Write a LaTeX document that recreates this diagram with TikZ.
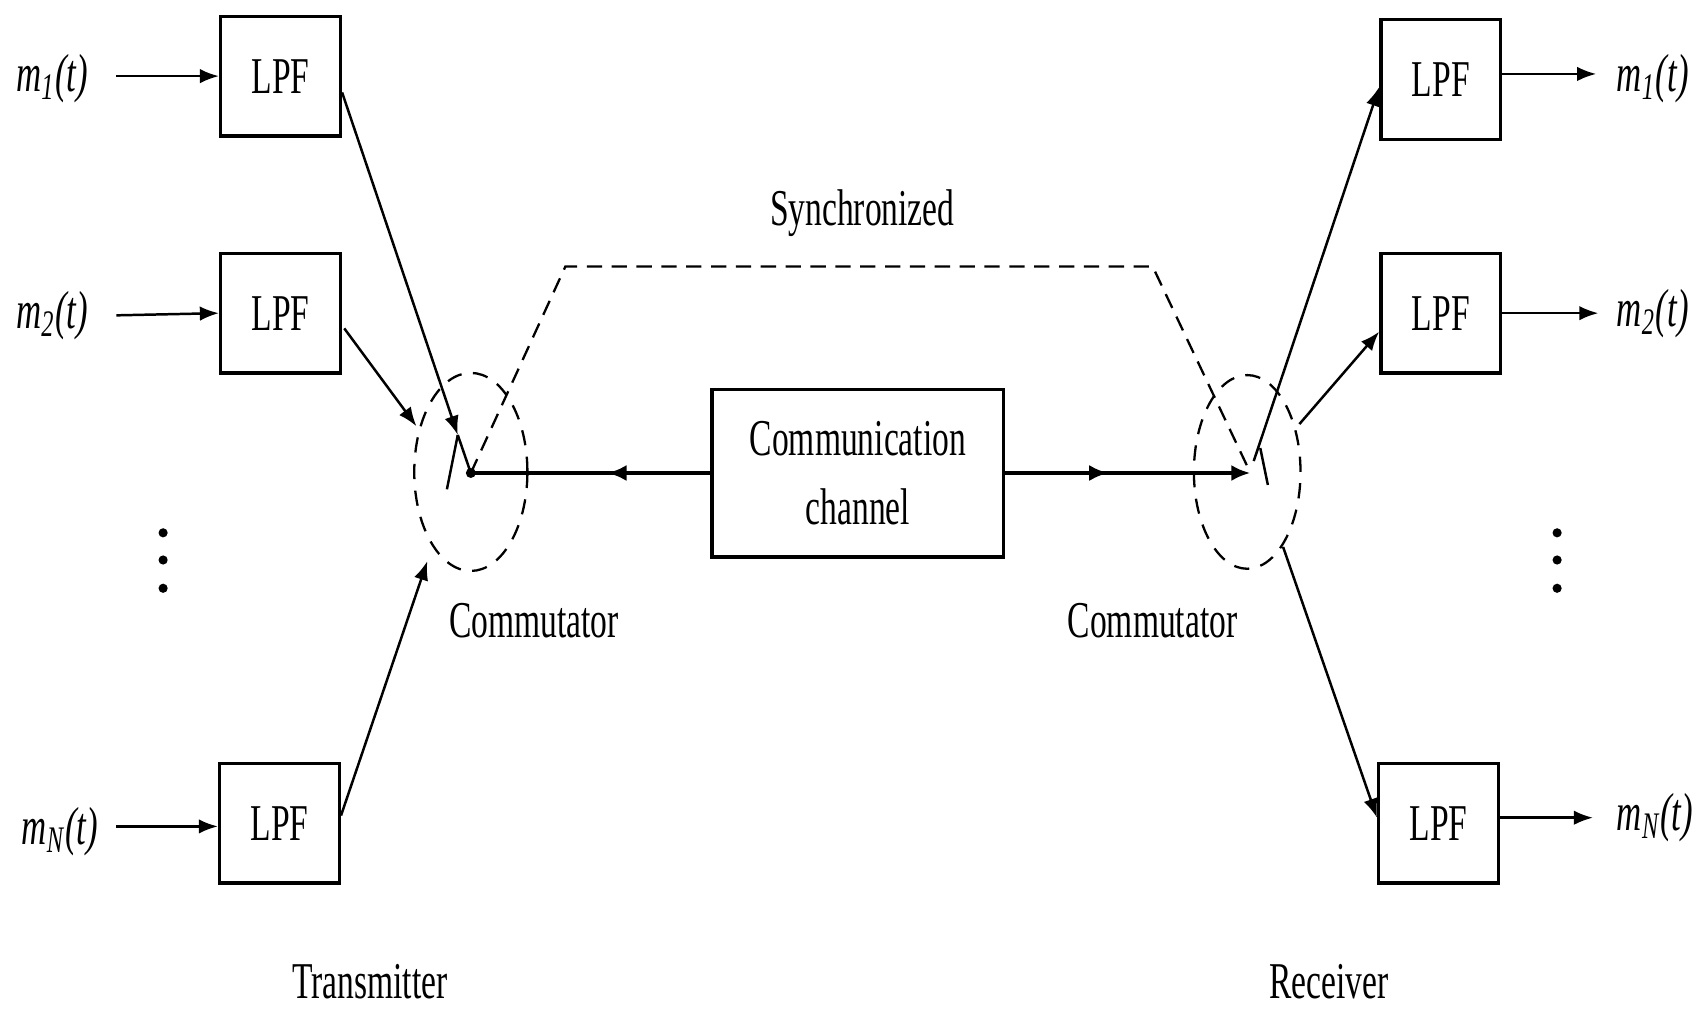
\documentclass[tikz,border=0pt]{standalone}
\usepackage{fontspec}
\newfontfamily\cf[FakeStretch=0.65]{Liberation Serif}
\usetikzlibrary{arrows.meta,shapes.geometric,decorations.markings,calc}
\begin{document}
\begin{tikzpicture}[x=0.01cm,y=-0.01cm,
  lbl/.style={font=\cf\fontsize{13.5}{18}\selectfont,inner sep=0pt},
  sig/.style={font=\cf\itshape\fontsize{14}{16}\selectfont,inner sep=0pt},
  lpf/.style={draw,line width=0.9pt,minimum width=1.1cm,minimum height=1.1cm,inner sep=0pt,font=\cf\fontsize{13.5}{16}\selectfont},
  arr/.style={line width=0.65pt,-{Latex[length=5pt,width=3.8pt]}},
  wire/.style={line width=0.65pt},
  comm/.style={draw,ellipse,line width=0.6pt,dash pattern=on 4pt off 3pt,inner sep=0pt},
  sync/.style={line width=0.6pt,dash pattern=on 4pt off 2.5pt},
  chan/.style={line width=1.1pt,postaction={decorate},
    decoration={markings,mark=at position #1 with {\arrow{Latex[length=5pt,width=4.2pt]}}}},
]
\useasboundingbox (0,0) rectangle (1568,930);

% ---------- transmitter filters ----------
\node[lpf] (t1) at (258,70) {LPF};
\node[lpf] (t2) at (258,288) {LPF};
\node[lpf] (tN) at (257,757) {LPF};

\node[sig] (m1) at (48,72) {m\textsubscript{1}(t)};
\node[sig] (m2) at (48,290) {m\textsubscript{2}(t)};
\node[sig] (mN) at (55,765) {m\textsubscript{N}(t)};
\coordinate (i1) at (107,70);
\coordinate (i2) at (107,290);
\coordinate (iN) at (107,760);
\draw[arr] (i1) -- (t1.west);
\draw[arr] (i2) -- (t2.west);
\draw[arr] (iN) -- (tN.west|-iN);

\fill (150,490) circle[radius=1.2pt] (150,515) circle[radius=1.2pt] (150,541) circle[radius=1.2pt];

% ---------- transmitter commutator ----------
\node[comm,minimum width=1.04cm,minimum height=1.82cm] (cmL) at (433,434) {};
\coordinate (cL) at (433,435);
\coordinate (p1) at (421,400);
\coordinate (p2) at (383,392);
\coordinate (pN) at (393,516);
\coordinate (qL) at (411,450);
\draw[arr] ($(t1.east)+(0,15)$) -- (p1);
\draw[wire] (p1) -- (cL);
\draw[wire] (qL) -- (p1);
\draw[arr] ($(t2.east)+(2,14)$) -- (p2);
\draw[arr] ($(tN.east)+(0,-7)$) -- (pN);
\fill (cL) circle[radius=1.3pt];
\node[lbl] (comL) at (491,571) {Commutator};

% ---------- channel ----------
\node[draw,line width=0.9pt,minimum width=2.68cm,minimum height=1.54cm,align=center,
      font=\cf\fontsize{13.5}{18}\selectfont] (ch) at (789,435) {Communication\\channel};
\draw[chan=0.43] (ch.west) -- (cL);

% ---------- receiver commutator ----------
\node[comm,minimum width=0.98cm,minimum height=1.78cm] (cmR) at (1147,434) {};
\coordinate (cR) at (1150,435);
\draw[chan=0.42,-{Latex[length=5pt,width=4.2pt]}] (ch.east) -- (cR);
\coordinate (qR) at (1166,446);
\coordinate (s1) at (1153,424);
\coordinate (s2) at (1195,390);
\coordinate (sN) at (1180,503);
\coordinate (rq) at (1159,412);
\draw[wire] (rq) -- (qR);
\node[lbl] (comR) at (1060,571) {Commutator};

% ---------- synchronisation link ----------
\coordinate (sL) at (520,245);
\coordinate (sR) at (1060,245);
\draw[sync] (cL) -- (sL) -- (sR) -- (cR);
\node[lbl] (syn) at (793,196) {Synchronized};

% ---------- receiver filters ----------
\node[lpf] (r1) at (1325,73) {LPF};
\node[lpf] (r2) at (1325,288) {LPF};
\node[lpf] (rN) at (1323,757) {LPF};
\draw[arr] (s1) -- ($(r1.west)+(0,7)$);
\draw[arr] (s2) -- ($(r2.west)+(0,17)$);
\draw[arr] (sN) -- ($(rN.west)+(0,-5)$);

\node[sig] (o1) at (1520,72) {m\textsubscript{1}(t)};
\node[sig] (o2) at (1520,288) {m\textsubscript{2}(t)};
\node[sig] (oN) at (1522,752) {m\textsubscript{N}(t)};
\coordinate (e1) at (1468,68);
\coordinate (e2) at (1470,288);
\coordinate (eN) at (1465,752);
\draw[arr] (r1.east|-e1) -- (e1);
\draw[arr] (r2.east) -- (e2);
\draw[arr] (rN.east|-eN) -- (eN);

\fill (1432,490) circle[radius=1.2pt] (1432,515) circle[radius=1.2pt] (1432,541) circle[radius=1.2pt];

% ---------- section captions ----------
\node[lbl,anchor=base] (tx) at (340,918) {Transmitter};
\node[lbl,anchor=base] (rx) at (1222,918) {Receiver};
\end{tikzpicture}
\end{document}
